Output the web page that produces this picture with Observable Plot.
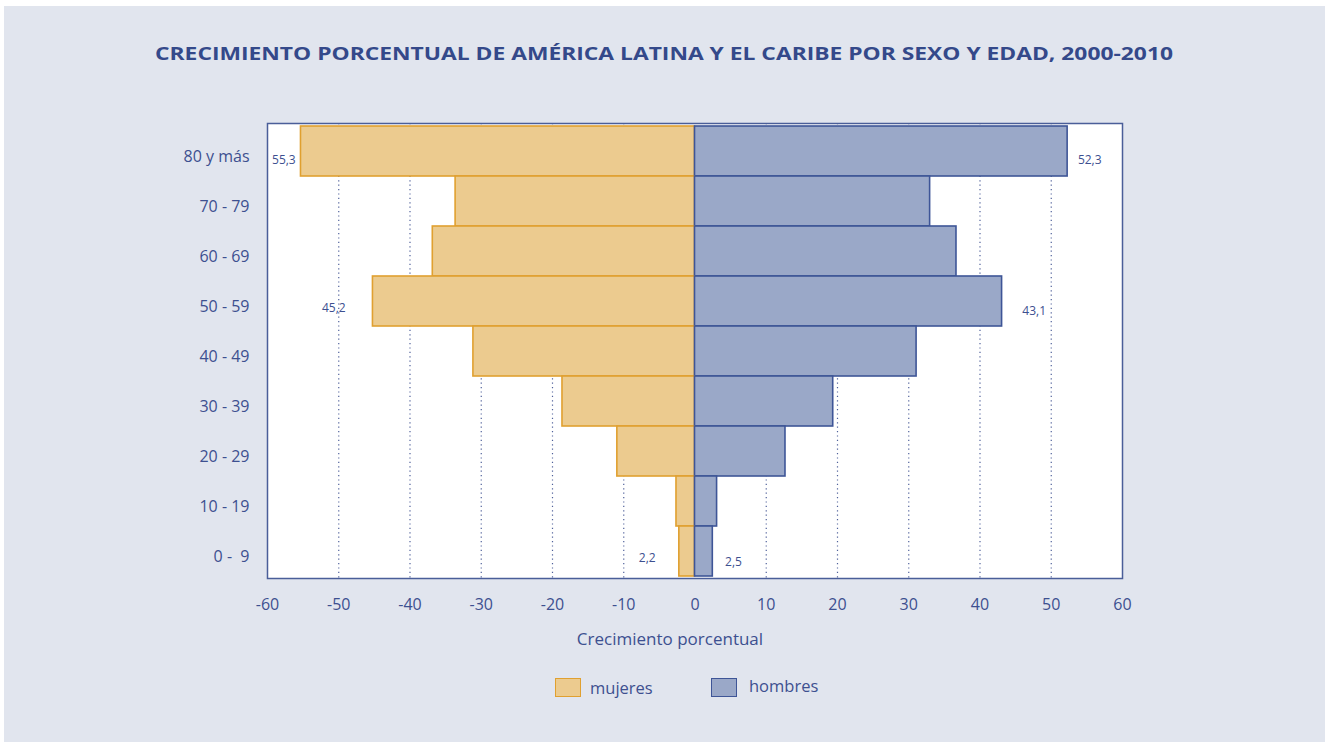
<!DOCTYPE html>
<html>
<head>
<meta charset="utf-8">
<script src="https://cdn.jsdelivr.net/npm/d3@7"></script>
<script src="https://cdn.jsdelivr.net/npm/@observablehq/plot@0.6"></script>
<style>
  html, body { margin: 0; padding: 0; background: #ffffff; }
  body { width: 1330px; height: 748px; position: relative; overflow: hidden; font-family: "Open Sans", sans-serif; }
  #bg { position: absolute; left: 4px; top: 6px; width: 1321px; height: 736px; background: #e1e5ee; }
  #title { position: absolute; left: 0; top: 40px; width: 1330px; }
  #chart { position: absolute; left: 0; top: 100px; }
  #xlabel { position: absolute; left: 520px; top: 627px; width: 300px; text-align: center; font-size: 17px; color: #3d5090; }
  .leg { position: absolute; font-size: 16.5px; color: #3d5090; }
  .sw { position: absolute; width: 24px; height: 17px; box-sizing: content-box; }
</style>
</head>
<body>
<div id="bg"></div>
<svg id="title" width="1330" height="30">
  <text x="664" y="20" text-anchor="middle" textLength="1018" lengthAdjust="spacingAndGlyphs"
        font-family="Open Sans" font-weight="700" font-size="17.5" fill="#34498a">CRECIMIENTO PORCENTUAL DE AMÉRICA LATINA Y EL CARIBE POR SEXO Y EDAD, 2000-2010</text>
</svg>
<div id="chart"></div>
<div id="xlabel">Crecimiento porcentual</div>
<div class="sw" style="left:555px; top:678px; background:#eccb8f; border:1.5px solid #e0a030;"></div>
<div class="leg" style="left:590px; top:676px;">mujeres</div>
<div class="sw" style="left:711px; top:678px; background:#9aa8c8; border:1.5px solid #3e5597;"></div>
<div class="leg" style="left:749px; top:674px;">hombres</div>
<script>
const ageGroups = ["80 y más", "70 - 79", "60 - 69", "50 - 59", "40 - 49", "30 - 39", "20 - 29", "10 - 19", "0 -  9"];
const mujeres = [55.3, 33.6, 36.8, 45.2, 31.1, 18.6, 10.9, 2.6, 2.2];
const hombres = [52.3, 33.0, 36.7, 43.1, 31.1, 19.4, 12.7, 3.1, 2.5];
const xTicks = [-60, -50, -40, -30, -20, -10, 0, 10, 20, 30, 40, 50, 60];
const gridTicks = [-50, -40, -30, -20, -10, 10, 20, 30, 40, 50];

// value labels (only some bars are annotated in the original)
const labelText = ["55,3", "45,2", "2,2", "52,3", "43,1", "2,5"];
const labelAge = ["80 y más", "50 - 59", "0 -  9", "80 y más", "50 - 59", "0 -  9"];
const labelX = [-57.7, -50.7, -6.7, 55.4, 47.6, 5.4];
const labelDy = [9, 7, 7, 9, 10, 11];

const bars = [];
ageGroups.forEach((a, i) => {
  bars.push({age: a, sexo: "mujeres", v: -mujeres[i]});
  bars.push({age: a, sexo: "hombres", v: hombres[i]});
});
const labels = labelText.map((t, i) => ({t, age: labelAge[i], x: labelX[i], dy: labelDy[i]}));

const fills = {mujeres: "#eccb8f", hombres: "#9aa8c8"};
const strokes = {mujeres: "#e0a030", hombres: "#3e5597"};

const plot = Plot.plot({
  width: 1330,
  height: 558,
  marginLeft: 267,
  marginRight: 208,
  marginTop: 23,
  marginBottom: 80,
  style: {background: "transparent", fontFamily: "Open Sans", color: "#3d5090", overflow: "visible"},
  x: {domain: [-60, 60], ticks: xTicks, label: null},
  y: {domain: ageGroups, padding: 0, label: null},
  marks: [
    Plot.frame({fill: "white"}),
    Plot.ruleX(gridTicks, {stroke: "#3d5090", strokeWidth: 1.2, strokeDasharray: "1.2,3.2", strokeOpacity: 0.9}),
    Plot.barX(bars, {
      x1: 0, x2: "v", y: "age",
      fill: d => fills[d.sexo], stroke: d => strokes[d.sexo],
      strokeWidth: 1.6
    }),
    ...labels.map(l => Plot.text([l], {x: "x", y: "age", text: "t", dy: l.dy, fill: "#3d5090", fontSize: 12})),
    Plot.frame({stroke: "#4a5e99", strokeWidth: 1.5}),
    Plot.axisX(xTicks, {tickSize: 0, tickPadding: 20, fontSize: 16, fill: "#3d5090", label: null, tickFormat: d => String(d)}),
    Plot.axisY({tickSize: 0, tickPadding: 18, dy: 5, fontSize: 16, fill: "#3d5090", label: null})
  ]
});
document.getElementById("chart").appendChild(plot);
</script>
</body>
</html>
